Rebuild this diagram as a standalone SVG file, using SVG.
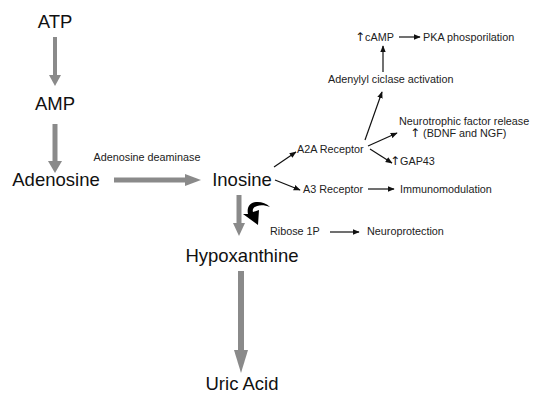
<svg xmlns="http://www.w3.org/2000/svg" width="547" height="403" viewBox="0 0 547 403">
<defs>
<style>
.big{font-family:"Liberation Sans",Arial,sans-serif;font-size:18.5px;fill:#111}
.sm{font-family:"Liberation Sans",Arial,sans-serif;font-size:10.8px;fill:#222}
.up{font-family:"DejaVu Sans",sans-serif;font-size:12px;fill:#111}
.thin{stroke:#111;stroke-width:1.2;fill:none}
.gs{stroke:#8a8a8a;fill:none}
.gh{fill:#8a8a8a}
</style>
<marker id="ah" viewBox="0 0 10 10" refX="9" refY="5" markerWidth="7" markerHeight="7" markerUnits="userSpaceOnUse" orient="auto">
<path d="M0,1 L10,5 L0,9 Z" fill="#111"/>
</marker>
</defs>
<rect width="547" height="403" fill="#fff"/>

<g id="atp"><text class="big" x="55" y="28" text-anchor="middle">ATP</text></g>
<g id="amp"><text class="big" x="55" y="110" text-anchor="middle">AMP</text></g>
<g id="adenosine"><text class="big" x="56" y="186" text-anchor="middle">Adenosine</text></g>
<g id="inosine"><text class="big" x="242" y="186" text-anchor="middle">Inosine</text></g>
<g id="hypoxanthine"><text class="big" x="242" y="262" text-anchor="middle">Hypoxanthine</text></g>
<g id="uricacid"><text class="big" x="242" y="390" text-anchor="middle">Uric Acid</text></g>
<g id="deaminase"><text class="sm" x="147" y="161" text-anchor="middle">Adenosine deaminase</text></g>
<g id="a2a"><text class="sm" x="297" y="153">A2A Receptor</text></g>
<g id="a3"><text class="sm" x="303" y="193">A3 Receptor</text></g>
<g id="immuno"><text class="sm" x="400" y="193">Immunomodulation</text></g>
<g id="neurotrophic"><text class="sm" x="399" y="125">Neurotrophic factor release</text><text class="sm" x="410" y="137"><tspan class="up">↑</tspan> (BDNF and NGF)</text></g>
<g id="gap43"><text class="sm" x="390" y="165"><tspan class="up">↑</tspan>GAP43</text></g>
<g id="adenylyl"><text class="sm" x="328" y="83">Adenylyl ciclase activation</text></g>
<g id="camp"><text class="sm" x="355" y="41"><tspan class="up">↑</tspan>cAMP</text></g>
<g id="pka"><text class="sm" x="423" y="41">PKA phosporilation</text></g>
<g id="ribose"><text class="sm" x="270" y="235">Ribose 1P</text></g>
<g id="neuroprotection"><text class="sm" x="367" y="235">Neuroprotection</text></g>

<g id="connectors">
<line class="gs" x1="55" y1="37" x2="55" y2="76" stroke-width="4"/>
<path class="gh" d="M49,75 L61,75 L55,86 Z"/>
<line class="gs" x1="55" y1="124" x2="55" y2="162" stroke-width="5"/>
<path class="gh" d="M48,161 L62,161 L55,173 Z"/>
<line class="gs" x1="114" y1="180" x2="186" y2="180" stroke-width="5"/>
<path class="gh" d="M185,174 L185,186 L201,180 Z"/>
<line class="gs" x1="239" y1="195" x2="239" y2="224" stroke-width="5"/>
<path class="gh" d="M233,223 L245,223 L239,236 Z"/>
<line class="gs" x1="241" y1="271" x2="241" y2="352" stroke-width="6"/>
<path class="gh" d="M234,350 L248,350 L241,373 Z"/>
<path d="M270,207 C262,199 245,200 248,214 L243,214 L258,225 L259,210 L253,212 C251,206 261,203 270,207 Z" fill="#000"/>

<line class="thin" x1="274" y1="167" x2="296" y2="152" marker-end="url(#ah)"/>
<line class="thin" x1="275" y1="180" x2="300" y2="190" marker-end="url(#ah)"/>
<line class="thin" x1="368" y1="189" x2="394" y2="189" marker-end="url(#ah)"/>
<line class="thin" x1="368" y1="146" x2="397" y2="133" marker-end="url(#ah)"/>
<line class="thin" x1="370" y1="149" x2="392" y2="163" marker-end="url(#ah)"/>
<line class="thin" x1="365" y1="140" x2="382" y2="92" marker-end="url(#ah)"/>
<line class="thin" x1="383" y1="72" x2="383" y2="46" marker-end="url(#ah)"/>
<line class="thin" x1="399" y1="37" x2="420" y2="37" marker-end="url(#ah)"/>
<line class="thin" x1="330" y1="232" x2="359" y2="232" marker-end="url(#ah)"/>
</g>
</svg>
